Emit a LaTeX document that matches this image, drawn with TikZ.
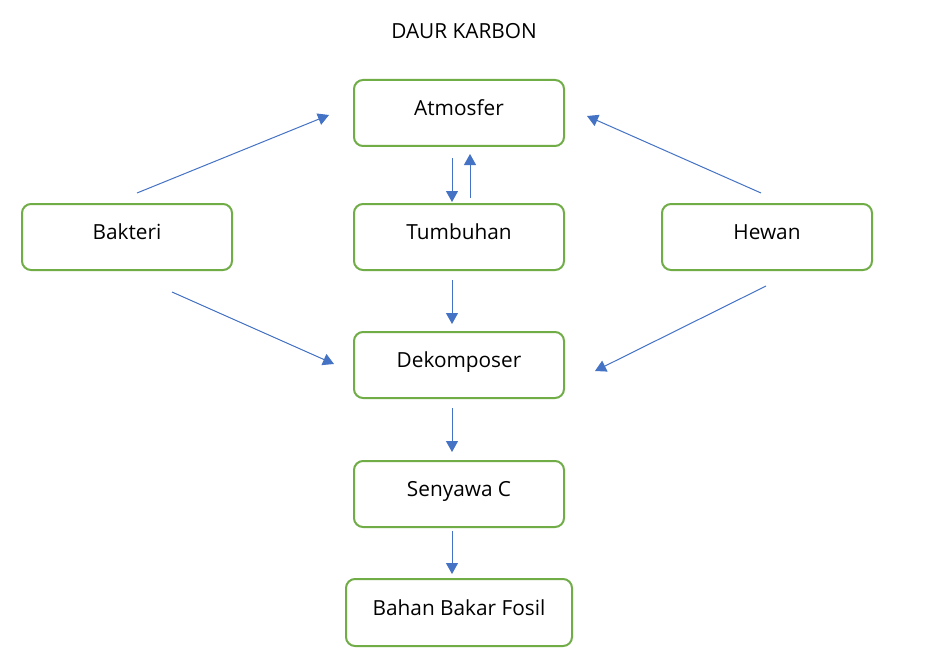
\documentclass[tikz,border=0pt]{standalone}
\usepackage{fontspec}
\setmainfont{Open Sans}
\usetikzlibrary{arrows.meta}
\definecolor{boxgreen}{HTML}{70AD47}
\definecolor{arrowblue}{HTML}{4472C4}
\begin{document}
\begin{tikzpicture}[x=1pt,y=-1pt,
  box/.style={draw=boxgreen, line width=2pt, rounded corners=9pt, fill=white,
    minimum width=210pt, minimum height=66pt, inner sep=0pt,
    font=\fontsize{20.8}{25}\selectfont, text height=10pt, text depth=5pt},
  flow/.style={draw=arrowblue, line width=1pt, -{Triangle[length=11pt,width=12pt]}}]
\useasboundingbox[fill=white] (0,0) rectangle (926,650);
\node[font=\fontsize{20.8}{25}\selectfont] (title) at (464,31) {DAUR KARBON};
\node[box] (atm) at (459,113) {Atmosfer};
\node[box] (tum) at (459,237) {Tumbuhan};
\node[box] (bak) at (127,237) {Bakteri};
\node[box] (hew) at (767,237) {Hewan};
\node[box] (dek) at (459,365) {Dekomposer};
\node[box] (sen) at (459,494) {Senyawa C};
\node[box, minimum width=226pt, minimum height=67pt] (fos) at (459,612.5) {Bahan Bakar Fosil};
% vertical arrows
\draw[flow, shorten <=11pt, shorten >=1pt] ([xshift=-7pt]atm.south) -- ([xshift=-7pt]tum.north);
\draw[flow, shorten <=5pt, shorten >=7pt] ([xshift=11pt]tum.north) -- ([xshift=11pt]atm.south);
\draw[flow, shorten <=9pt, shorten >=7pt] ([xshift=-7pt]tum.south) -- ([xshift=-7pt]dek.north);
\draw[flow, shorten <=9pt, shorten >=8pt] ([xshift=-7pt]dek.south) -- ([xshift=-7pt]sen.north);
\draw[flow, shorten <=3pt, shorten >=4pt] ([xshift=-7pt]sen.south) -- ([xshift=-7pt]fos.north);
% diagonal arrows
\coordinate (b1) at (137,193);
\coordinate (a1) at (329,115);
\coordinate (h1) at (761,193);
\coordinate (a2) at (587,116);
\coordinate (b2) at (172,292);
\coordinate (d1) at (334,364);
\coordinate (h2) at (766,286);
\coordinate (d2) at (595,371);
\draw[flow] (b1) -- (a1);
\draw[flow] (h1) -- (a2);
\draw[flow] (b2) -- (d1);
\draw[flow] (h2) -- (d2);
\end{tikzpicture}
\end{document}
